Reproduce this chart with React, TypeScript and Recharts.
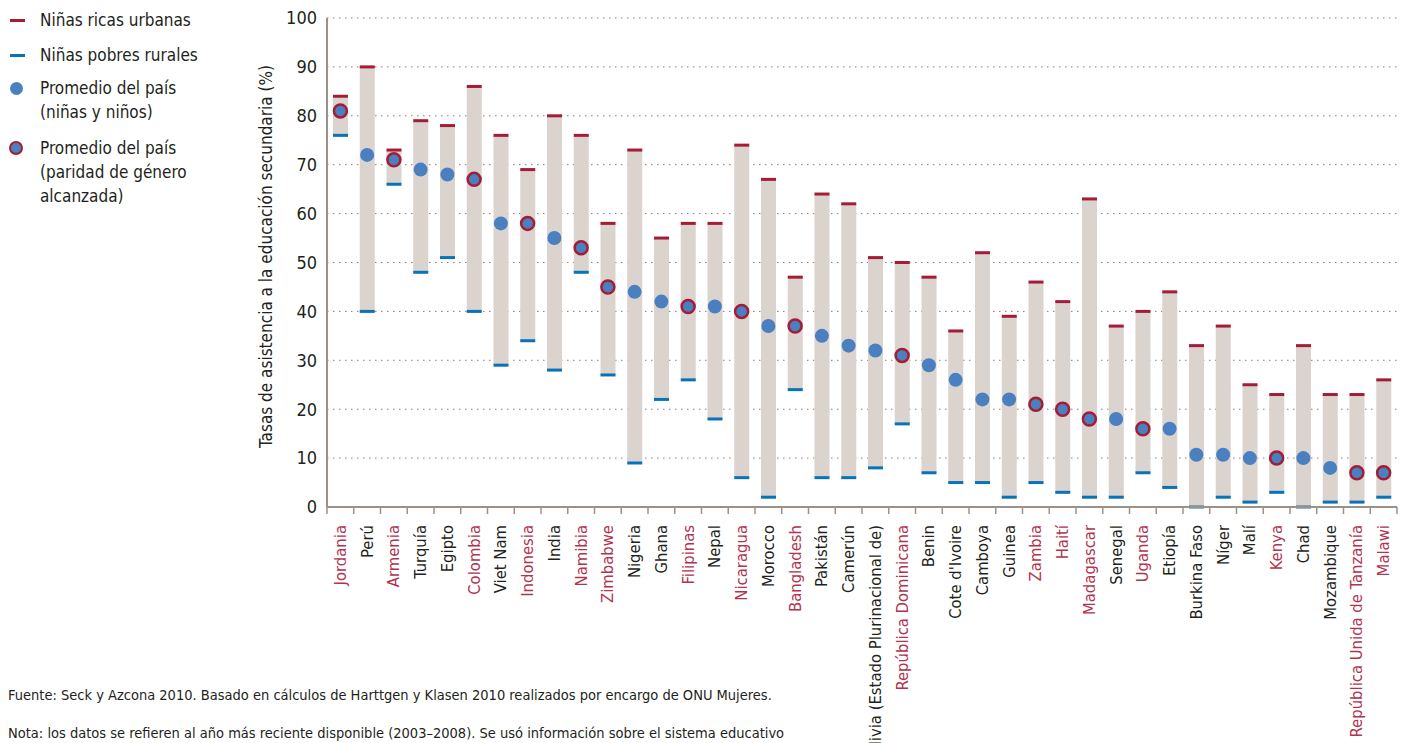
import { Bar, CartesianGrid, ComposedChart, Line, XAxis, YAxis } from "recharts";

const countries = [
  "Jordania", "Perú", "Armenia", "Turquía", "Egipto", "Colombia", "Viet Nam", "Indonesia",
  "India", "Namibia", "Zimbabwe", "Nigeria", "Ghana", "Filipinas", "Nepal", "Nicaragua",
  "Morocco", "Bangladesh", "Pakistán", "Camerún", "Bolivia (Estado Plurinacional de)",
  "República Dominicana", "Benin", "Cote d'Ivoire", "Camboya", "Guinea", "Zambia", "Haití",
  "Madagascar", "Senegal", "Uganda", "Etiopía", "Burkina Faso", "Níger", "Malí", "Kenya",
  "Chad", "Mozambique", "República Unida de Tanzanía", "Malawi",
];

// Niñas ricas urbanas (top of each range)
const richUrban = [
  84, 90, 73, 79, 78, 86, 76, 69, 80, 76, 58, 73, 55, 58, 58, 74, 67, 47, 64, 62,
  51, 50, 47, 36, 52, 39, 46, 42, 63, 37, 40, 44, 33, 37, 25, 23, 33, 23, 23, 26,
];

// Niñas pobres rurales (bottom of each range)
const poorRural = [
  76, 40, 66, 48, 51, 40, 29, 34, 28, 48, 27, 9, 22, 26, 18, 6, 2, 24, 6, 6,
  8, 17, 7, 5, 5, 2, 5, 3, 2, 2, 7, 4, 0, 2, 1, 3, 0, 1, 1, 2,
];

// Promedio del país (niñas y niños)
const countryAverage = [
  81, 72, 71, 69, 68, 67, 58, 58, 55, 53, 45, 44, 42, 41, 41, 40, 37, 37, 35, 33,
  32, 31, 29, 26, 22, 22, 21, 20, 18, 18, 16, 16, 10.7, 10.7, 10, 10, 10, 8, 7, 7,
];

// paridad de género alcanzada
const parity = [
  true, false, true, false, false, true, false, true, false, true, true, false, false, true,
  false, true, false, true, false, false, false, true, false, false, false, false, true, true,
  true, false, true, false, false, false, false, true, false, false, true, true,
];

const yTicks = [0, 10, 20, 30, 40, 50, 60, 70, 80, 90, 100];

const rows = countries.map((name, i) => ({
  name,
  hi: richUrban[i],
  lo: poorRural[i],
  avg: countryAverage[i],
  parity: parity[i],
}));

const RED = "#a51c36";
const BLUE_CAP = "#0a72b8";
const DOT = "#4a80c0";
const BAR = "#dad3ce";
const AXIS = "#9c9189";
const LABEL_RED = "#b0344f";
const TEXT = "#231f20";
const FONT = '"Liberation Sans Narrow", "DejaVu Sans Condensed", Roboto, sans-serif';

const RangeShape = (props: any) => {
  const { x, y, width, height } = props;
  return (
    <g>
      <rect x={x} y={y} width={width} height={height} fill={BAR} />
      <rect x={x} y={y - 1.5} width={width} height={3} fill={RED} />
      <rect x={x} y={y + height - 1.5} width={width} height={3} fill={BLUE_CAP} />
    </g>
  );
};

const AvgDot = (props: any) => {
  const { cx, cy, payload, index } = props;
  if (cx == null || cy == null) return <g key={index} />;
  return payload.parity ? (
    <circle key={index} cx={cx} cy={cy} r={6.5} fill={DOT} stroke={RED} strokeWidth={2.5} />
  ) : (
    <circle key={index} cx={cx} cy={cy} r={7} fill={DOT} />
  );
};

const CountryTick = (props: any) => {
  const { x, y, payload, index } = props;
  const half = payload.offset || 13.375;
  const red = parity[index];
  return (
    <g>
      <line x1={x - half} x2={x - half} y1={y} y2={y + 7} stroke={AXIS} strokeWidth={1.5} />
      {index === countries.length - 1 && (
        <line x1={x + half} x2={x + half} y1={y} y2={y + 7} stroke={AXIS} strokeWidth={1.5} />
      )}
      <text
        transform={`translate(${x},${y + 18}) rotate(-90)`}
        textAnchor="end"
        dominantBaseline="central"
        fontSize={16.5}
        fontFamily={FONT}
        fill={red ? LABEL_RED : TEXT}
      >
        {payload.value}
      </text>
    </g>
  );
};

const legendText: React.CSSProperties = {
  position: "absolute",
  left: 40,
  fontSize: 17,
  lineHeight: "24px",
  color: TEXT,
};

export default function App() {
  return (
    <div
      style={{
        position: "absolute",
        left: 0,
        top: 0,
        width: 1408,
        height: 743,
        overflow: "hidden",
        background: "#fff",
        fontFamily: FONT,
      }}
    >
      <ComposedChart
        width={1408}
        height={743}
        data={rows}
        margin={{ top: 18, right: 11, bottom: 0, left: 247 }}
      >
        <CartesianGrid
          vertical={false}
          stroke="#8b7d70"
          strokeDasharray="1.5 4.5"
          horizontalValues={yTicks.slice(1)}
        />
        <XAxis
          dataKey="name"
          type="category"
          interval={0}
          height={236}
          tickSize={0}
          tickMargin={0}
          tickLine={false}
          axisLine={{ stroke: AXIS, strokeWidth: 2 }}
          tick={<CountryTick />}
        />
        <YAxis
          type="number"
          domain={[0, 100]}
          ticks={yTicks}
          width={80}
          tickLine={false}
          tickMargin={4}
          axisLine={{ stroke: AXIS, strokeWidth: 2 }}
          tick={{ fill: TEXT, fontSize: 18, fontFamily: FONT }}
          label={(p: any) => {
            const vb = p.viewBox;
            const cx = vb.x + 19;
            const cy = vb.y + vb.height / 2 - 6;
            return (
              <text
                transform={`translate(${cx},${cy}) rotate(-90)`}
                textAnchor="middle"
                dominantBaseline="central"
                fontSize={17}
                fontFamily={FONT}
                fill={TEXT}
              >
                Tasas de asistencia a la educación secundaria (%)
              </text>
            );
          }}
        />
        <Bar
          dataKey={(d: any) => [d.lo, d.hi]}
          barSize={15}
          shape={<RangeShape />}
          isAnimationActive={false}
        />
        <Line
          dataKey="avg"
          stroke="none"
          dot={<AvgDot />}
          activeDot={false}
          isAnimationActive={false}
        />
      </ComposedChart>

      <div style={{ position: "absolute", left: 10, top: 19, width: 15, height: 3, background: RED }} />
      <div style={{ ...legendText, top: 8 }}>Niñas ricas urbanas</div>
      <div style={{ position: "absolute", left: 10, top: 54, width: 15, height: 3, background: BLUE_CAP }} />
      <div style={{ ...legendText, top: 43 }}>Niñas pobres rurales</div>
      <div style={{ position: "absolute", left: 10, top: 82, width: 13, height: 13, borderRadius: "50%", background: DOT }} />
      <div style={{ ...legendText, top: 76 }}>
        Promedio del país
        <br />
        (niñas y niños)
      </div>
      <div
        style={{
          position: "absolute",
          left: 9,
          top: 141,
          width: 10,
          height: 10,
          borderRadius: "50%",
          background: DOT,
          border: `2.5px solid ${RED}`,
        }}
      />
      <div style={{ ...legendText, top: 136 }}>
        Promedio del país
        <br />
        (paridad de género
        <br />
        alcanzada)
      </div>

      <div style={{ position: "absolute", left: 8, top: 687, fontSize: 14.5, color: TEXT }}>
        Fuente: Seck y Azcona 2010. Basado en cálculos de Harttgen y Klasen 2010 realizados por encargo de ONU Mujeres.
      </div>
      <div style={{ position: "absolute", left: 8, top: 725, fontSize: 14.5, color: TEXT }}>
        Nota: los datos se refieren al año más reciente disponible (2003–2008). Se usó información sobre el sistema educativo
      </div>
    </div>
  );
}
